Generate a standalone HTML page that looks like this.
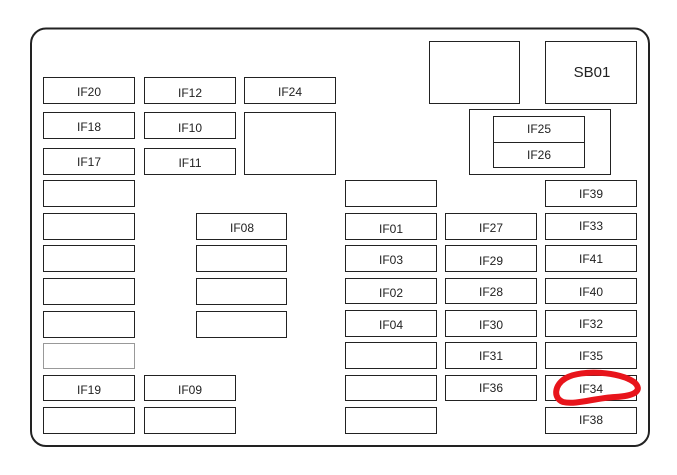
<!DOCTYPE html>
<html><head><meta charset="utf-8"><style>
html,body{margin:0;padding:0;background:#fff;}
svg{display:block;}
text{font-family:"Liberation Sans",Arial,sans-serif;font-size:12px;fill:#222;text-anchor:middle;}
</style></head><body>
<svg width="677" height="475" viewBox="0 0 677 475" xmlns="http://www.w3.org/2000/svg">
<rect x="31" y="28.5" width="618" height="417.5" rx="15" ry="15" fill="none" stroke="#222" stroke-width="2"/>
<g fill="none" stroke="#222" stroke-width="1">
<!-- col1 -->
<rect x="43.5" y="77.5" width="91" height="26"/>
<rect x="43.5" y="112.5" width="91" height="26"/>
<rect x="43.5" y="148.5" width="91" height="26"/>
<rect x="43.5" y="180.5" width="91" height="26"/>
<rect x="43.5" y="213.5" width="91" height="26"/>
<rect x="43.5" y="245.5" width="91" height="26"/>
<rect x="43.5" y="278.5" width="91" height="26"/>
<rect x="43.5" y="311.5" width="91" height="26"/>
<rect x="43.5" y="343.5" width="91" height="25" stroke="#999"/>
<rect x="43.5" y="375.5" width="91" height="25"/>
<rect x="43.5" y="407.5" width="91" height="26"/>
<!-- col2 -->
<rect x="144.5" y="77.5" width="91" height="26"/>
<rect x="144.5" y="112.5" width="91" height="26"/>
<rect x="144.5" y="148.5" width="91" height="26"/>
<rect x="144.5" y="375.5" width="91" height="25"/>
<rect x="144.5" y="407.5" width="91" height="26"/>
<!-- col3 -->
<rect x="244.5" y="77.5" width="91" height="26"/>
<rect x="244.5" y="112.5" width="91" height="62"/>
<!-- IF08 col -->
<rect x="196.5" y="213.5" width="90" height="26"/>
<rect x="196.5" y="245.5" width="90" height="26"/>
<rect x="196.5" y="278.5" width="90" height="26"/>
<rect x="196.5" y="311.5" width="90" height="26"/>
<!-- col4 -->
<rect x="345.5" y="180.5" width="91" height="26"/>
<rect x="345.5" y="213.5" width="91" height="26"/>
<rect x="345.5" y="245.5" width="91" height="26"/>
<rect x="345.5" y="278.5" width="91" height="25"/>
<rect x="345.5" y="310.5" width="91" height="26"/>
<rect x="345.5" y="342.5" width="91" height="26"/>
<rect x="345.5" y="375.5" width="91" height="25"/>
<rect x="345.5" y="407.5" width="91" height="26"/>
<!-- col5 -->
<rect x="445.5" y="213.5" width="91" height="26"/>
<rect x="445.5" y="245.5" width="91" height="26"/>
<rect x="445.5" y="278.5" width="91" height="25"/>
<rect x="445.5" y="310.5" width="91" height="26"/>
<rect x="445.5" y="342.5" width="91" height="26"/>
<rect x="445.5" y="375.5" width="91" height="25"/>
<!-- col6 -->
<rect x="545.5" y="180.5" width="91" height="26"/>
<rect x="545.5" y="213.5" width="91" height="26"/>
<rect x="545.5" y="245.5" width="91" height="26"/>
<rect x="545.5" y="278.5" width="91" height="25"/>
<rect x="545.5" y="310.5" width="91" height="26"/>
<rect x="545.5" y="342.5" width="91" height="26"/>
<rect x="545.5" y="375.5" width="91" height="25"/>
<rect x="545.5" y="407.5" width="91" height="26"/>
<!-- top right -->
<rect x="429.5" y="41.5" width="90" height="62"/>
<rect x="545.5" y="41.5" width="91" height="62"/>
<rect x="469.5" y="109.5" width="141" height="65"/>
<rect x="493.5" y="116.5" width="91" height="26"/>
<rect x="493.5" y="142.5" width="91" height="25"/>
</g>
<text x="89" y="96">IF20</text>
<text x="89" y="131">IF18</text>
<text x="89" y="166">IF17</text>
<text x="89" y="394">IF19</text>
<text x="190" y="97">IF12</text>
<text x="190" y="132">IF10</text>
<text x="190" y="167">IF11</text>
<text x="190" y="394">IF09</text>
<text x="290" y="96">IF24</text>
<text x="242" y="232">IF08</text>
<text x="391" y="233">IF01</text>
<text x="391" y="264">IF03</text>
<text x="391" y="297">IF02</text>
<text x="391" y="329">IF04</text>
<text x="491" y="232">IF27</text>
<text x="491" y="265">IF29</text>
<text x="491" y="296">IF28</text>
<text x="491" y="329">IF30</text>
<text x="491" y="360">IF31</text>
<text x="491" y="392">IF36</text>
<text x="591" y="198">IF39</text>
<text x="591" y="230">IF33</text>
<text x="591" y="263">IF41</text>
<text x="591" y="296">IF40</text>
<text x="591" y="328">IF32</text>
<text x="591" y="360">IF35</text>
<text x="591" y="393">IF34</text>
<text x="591" y="424">IF38</text>
<text x="539" y="133">IF25</text>
<text x="539" y="159">IF26</text>
<text x="592" y="77" style="font-size:15px">SB01</text>
<path d="M566,378 C582,369 620,372 634,382 C643,390 636,396 615,397 C595,398 576,405 563,402 C553,398 554,385 566,378 Z" fill="none" stroke="#e8141b" stroke-width="6" stroke-linejoin="round"/>
</svg>
</body></html>
